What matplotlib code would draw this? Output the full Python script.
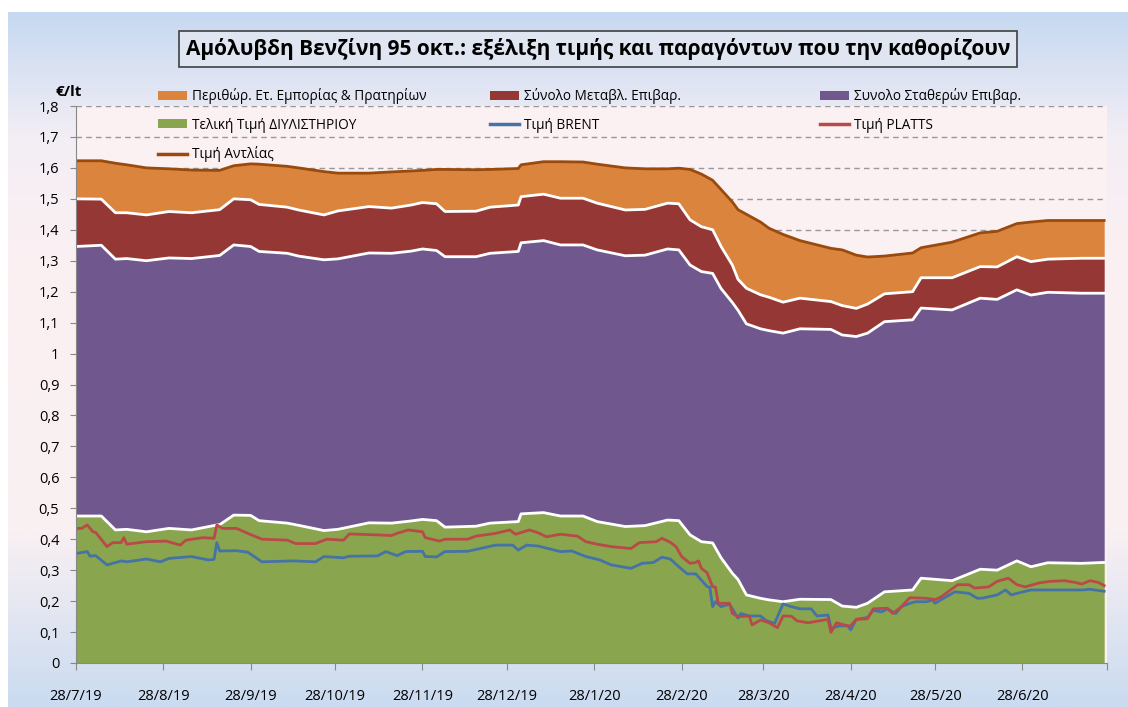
import numpy as np
import pandas as pd
import matplotlib
matplotlib.use('Agg')
import matplotlib.pyplot as plt
from matplotlib.patches import Patch
from matplotlib.lines import Line2D
from matplotlib.colors import LinearSegmentedColormap

plt.rcParams['font.family'] = ['Open Sans', 'DejaVu Sans']

START = pd.Timestamp('2019-07-28')

# days since 28/7/19 for the stacked areas
area_days = [0, 9, 14, 18, 25, 33, 41, 50, 51, 56,
             62, 65, 75, 79, 88, 93, 104, 112, 119, 123,
             128, 131, 142, 147, 157, 158, 166, 172, 180, 185,
             195, 202, 210, 214, 218, 222, 226, 229, 233, 235,
             238, 243, 246, 251, 257, 268, 272, 277, 281, 287,
             297, 300, 311, 321, 327, 334, 339, 345, 357, 365]
# Τελική Τιμή ΔΙΥΛΙΣΤΗΡΙΟΥ (top of green)
refinery = [0.475, 0.475, 0.43, 0.432, 0.424, 0.435, 0.43, 0.446, 0.447, 0.478,
            0.477, 0.46, 0.452, 0.445, 0.428, 0.432, 0.453, 0.452, 0.459, 0.464,
            0.46, 0.439, 0.442, 0.452, 0.457, 0.482, 0.486, 0.475, 0.475, 0.457,
            0.441, 0.444, 0.462, 0.46, 0.414, 0.392, 0.388, 0.34, 0.29, 0.27,
            0.22, 0.209, 0.204, 0.198, 0.206, 0.205, 0.184, 0.18, 0.193, 0.23,
            0.236, 0.274, 0.266, 0.303, 0.30, 0.33, 0.311, 0.324, 0.322, 0.325]
# top of fixed taxes (purple)
fixed_top = [1.346, 1.35, 1.305, 1.307, 1.30, 1.309, 1.307, 1.316, 1.317, 1.351,
             1.346, 1.33, 1.324, 1.315, 1.303, 1.306, 1.325, 1.324, 1.331, 1.338,
             1.333, 1.313, 1.313, 1.324, 1.33, 1.358, 1.365, 1.351, 1.351, 1.335,
             1.316, 1.318, 1.338, 1.335, 1.286, 1.265, 1.259, 1.21, 1.165, 1.14,
             1.096, 1.08, 1.074, 1.066, 1.08, 1.078, 1.06, 1.055, 1.066, 1.103,
             1.109, 1.147, 1.141, 1.179, 1.175, 1.206, 1.189, 1.198, 1.195, 1.195]
# top of variable taxes (dark red)
variable_top = [1.50, 1.499, 1.455, 1.455, 1.448, 1.459, 1.455, 1.464, 1.465, 1.50,
                1.497, 1.482, 1.473, 1.464, 1.448, 1.461, 1.475, 1.47, 1.48, 1.488,
                1.484, 1.459, 1.46, 1.473, 1.48, 1.507, 1.515, 1.502, 1.502, 1.486,
                1.464, 1.466, 1.486, 1.484, 1.432, 1.41, 1.40, 1.346, 1.286, 1.24,
                1.211, 1.19, 1.182, 1.166, 1.179, 1.168, 1.155, 1.146, 1.16, 1.193,
                1.20, 1.245, 1.245, 1.281, 1.28, 1.313, 1.297, 1.305, 1.308, 1.308]
# Τιμή Αντλίας (pump price)
pump = [1.623, 1.623, 1.615, 1.61, 1.60, 1.597, 1.593, 1.592, 1.592, 1.607,
        1.613, 1.612, 1.605, 1.60, 1.588, 1.583, 1.583, 1.587, 1.59, 1.592,
        1.595, 1.595, 1.594, 1.595, 1.598, 1.61, 1.62, 1.62, 1.619, 1.612,
        1.60, 1.597, 1.597, 1.599, 1.595, 1.58, 1.56, 1.53, 1.49, 1.465,
        1.45, 1.425, 1.405, 1.385, 1.365, 1.34, 1.335, 1.318, 1.312, 1.315,
        1.325, 1.342, 1.36, 1.39, 1.395, 1.42, 1.425, 1.43, 1.43, 1.43]

brent_days = [0, 4, 5, 7, 11, 15, 16, 18, 25, 30, 33, 41, 47, 49, 50, 51, 57, 61, 66, 77,
              85, 88, 95, 97, 107, 110, 114, 117, 123, 124, 128, 131, 139, 144, 149, 155,
              157, 160, 164, 172, 176, 181, 186, 190, 197, 201, 205, 208, 211, 214, 217,
              220, 222, 224, 225, 226, 227, 229, 232, 234, 235, 236, 239, 243, 245, 248,
              251, 254, 257, 261, 263, 267, 268, 271, 274, 275, 277, 281, 283, 286, 288,
              291, 293, 296, 298, 302, 304, 305, 307, 312, 317, 320, 322, 327, 330, 332,
              334, 339, 345, 357, 360, 365]
brent = [0.354, 0.36, 0.345, 0.347, 0.317, 0.327, 0.33, 0.327, 0.336, 0.327, 0.338, 0.344,
         0.333, 0.335, 0.389, 0.362, 0.363, 0.358, 0.327, 0.33, 0.327, 0.344, 0.34, 0.345,
         0.346, 0.36, 0.347, 0.36, 0.361, 0.344, 0.343, 0.36, 0.361, 0.371, 0.381, 0.381,
         0.365, 0.381, 0.378, 0.36, 0.362, 0.344, 0.333, 0.317, 0.306, 0.322, 0.325, 0.342,
         0.336, 0.311, 0.288, 0.288, 0.268, 0.247, 0.245, 0.182, 0.198, 0.182, 0.19, 0.16,
         0.145, 0.16, 0.152, 0.152, 0.137, 0.128, 0.191, 0.182, 0.175, 0.175, 0.152, 0.155,
         0.112, 0.12, 0.12, 0.107, 0.141, 0.147, 0.17, 0.165, 0.175, 0.16, 0.182, 0.193,
         0.198, 0.198, 0.204, 0.193, 0.204, 0.23, 0.225, 0.209, 0.21, 0.22, 0.236, 0.22,
         0.225, 0.236, 0.236, 0.236, 0.238, 0.232]

platts_days = [0, 2, 4, 6, 7, 11, 13, 16, 17, 18, 25, 32, 37, 39, 45, 49, 50, 52, 57, 61,
               66, 75, 78, 85, 89, 95, 97, 107, 112, 114, 118, 123, 124, 129, 131, 139, 142,
               149, 154, 156, 161, 164, 167, 172, 178, 181, 185, 190, 197, 200, 206, 208,
               211, 213, 215, 218, 220, 221, 222, 224, 226, 227, 228, 232, 233, 235, 239,
               240, 243, 246, 249, 251, 254, 256, 260, 263, 267, 268, 270, 274, 275, 277,
               281, 283, 288, 290, 293, 296, 302, 305, 307, 313, 317, 319, 324, 327, 331,
               334, 337, 342, 346, 351, 355, 357, 360, 363, 365]
platts = [0.435, 0.435, 0.446, 0.424, 0.422, 0.376, 0.389, 0.389, 0.405, 0.384, 0.392,
          0.394, 0.381, 0.397, 0.405, 0.403, 0.446, 0.435, 0.435, 0.419, 0.40, 0.397, 0.386,
          0.386, 0.40, 0.397, 0.417, 0.414, 0.412, 0.419, 0.43, 0.424, 0.405, 0.394, 0.40,
          0.40, 0.41, 0.419, 0.43, 0.416, 0.43, 0.421, 0.408, 0.416, 0.41, 0.392, 0.384,
          0.376, 0.37, 0.389, 0.392, 0.403, 0.39, 0.376, 0.344, 0.322, 0.325, 0.33, 0.306,
          0.292, 0.247, 0.245, 0.193, 0.193, 0.16, 0.15, 0.152, 0.123, 0.139, 0.13, 0.114,
          0.152, 0.151, 0.136, 0.13, 0.135, 0.141, 0.099, 0.13, 0.12, 0.12, 0.141, 0.143,
          0.175, 0.177, 0.16, 0.182, 0.211, 0.209, 0.205, 0.213, 0.253, 0.253, 0.242, 0.246,
          0.264, 0.274, 0.253, 0.246, 0.259, 0.264, 0.266, 0.26, 0.255, 0.266, 0.26, 0.25]

labels = ['Περιθώρ. Ετ. Εμπορίας & Πρατηρίων', 'Σύνολο Μεταβλ. Επιβαρ.',
          'Συνολο Σταθερών Επιβαρ.', 'Τελική Τιμή ΔΙΥΛΙΣΤΗΡΙΟΥ', 'Τιμή BRENT',
          'Τιμή PLATTS', 'Τιμή Αντλίας']
title = 'Αμόλυβδη Βενζίνη 95 οκτ.: εξέλιξη τιμής και παραγόντων που την καθορίζουν'

c_orange = '#db843d'
c_red = '#953735'
c_purple = '#70588f'
c_green = '#89a54e'
c_blue = '#4572a7'
c_platts = '#b94a48'
c_pump = '#9a4a0c'


def _dates(days):
    return START + pd.to_timedelta(days, unit='D')


fig = plt.figure(figsize=(11.28, 7.07), dpi=100)

# gradient background frame
bg = fig.add_axes([8 / 1128, 0, 1 - 8 / 1128, 1 - 12 / 707], zorder=-10)
cmap = LinearSegmentedColormap.from_list(
    'bg', [(0, '#c6d9f1'), (0.18, '#f3eef5'), (0.35, '#fbf0f2'),
           (0.75, '#f9f0f3'), (1, '#cadbf0')])
bg.imshow(np.linspace(0, 1, 256).reshape(-1, 1), aspect='auto', cmap=cmap,
          extent=[0, 1, 1, 0])
bg.set_axis_off()

ax = fig.add_axes([76 / 1128, 1 - 663 / 707, 1031 / 1128, 557 / 707])
ax.set_facecolor('#fbf0f2')

ad = _dates(area_days)
ax.fill_between(ad, 0, refinery, color=c_green, lw=0, zorder=2)
ax.fill_between(ad, refinery, fixed_top, color=c_purple, lw=0, zorder=2)
ax.fill_between(ad, fixed_top, variable_top, color=c_red, lw=0, zorder=2)
ax.fill_between(ad, variable_top, pump, color=c_orange, lw=0, zorder=2)
for top in (refinery, fixed_top, variable_top):
    ax.plot(ad, top, color='white', lw=2, zorder=3)
ax.plot(ad, pump, color=c_pump, lw=2, zorder=4)
ax.plot(_dates(brent_days), brent, color=c_blue, lw=2, zorder=4)
ax.plot(_dates(platts_days), platts, color=c_platts, lw=2, zorder=4)

ax.set_ylim(0, 1.8)
ax.set_xlim(_dates([0])[0], _dates([366])[0])
yt = np.round(np.arange(0, 1.81, 0.1), 1)
ax.set_yticks(yt)
ax.set_yticklabels([('%g' % v).replace('.', ',') for v in yt], fontsize=10.5)
xt = pd.date_range('2019-07-28', '2020-07-28', freq=pd.DateOffset(months=1))
ax.set_xticks(xt)
xl = [f'{d.day}/{d.month}/{d.year % 100}' for d in xt]
xl[-1] = ''
ax.set_xticklabels(xl, fontsize=10.5)
ax.tick_params(axis='x', length=5, pad=14, color='#888888')
ax.tick_params(axis='y', length=4, pad=8, color='#888888')
ax.yaxis.grid(True, linestyle=(0, (4, 3)), color='#999999', lw=1)
ax.set_axisbelow(True)
for s in ('top', 'right'):
    ax.spines[s].set_visible(False)
for s in ('left', 'bottom'):
    ax.spines[s].set_color('#888888')
    ax.spines[s].set_zorder(5)

fig.text(55 / 1128, 1 - 92 / 707, '€/lt', fontsize=11, weight='bold', va='center')

fig.text(598 / 1128, 1 - 49 / 707, title, fontsize=15, weight='bold',
         ha='center', va='center',
         bbox=dict(boxstyle='square,pad=0.33', facecolor='#dfe5f1',
                   edgecolor='#404040', lw=1.2))

# legend in three fixed columns
h_orange = Patch(facecolor=c_orange)
h_red = Patch(facecolor=c_red)
h_purple = Patch(facecolor=c_purple)
h_green = Patch(facecolor=c_green)
h_blue = Line2D([], [], color=c_blue, lw=2.5)
h_platts = Line2D([], [], color=c_platts, lw=2.5)
h_pump = Line2D([], [], color=c_pump, lw=2.5)
cols = [([h_orange, h_green, h_pump], [labels[0], labels[3], labels[6]], 158),
        ([h_red, h_blue], [labels[1], labels[4]], 490),
        ([h_purple, h_platts], [labels[2], labels[5]], 820)]
for hs, ls, xpx in cols:
    fig.legend(hs, ls, loc='upper left', bbox_to_anchor=(xpx / 1128, 1 - 88 / 707),
               frameon=False, fontsize=9.8, borderpad=0, borderaxespad=0,
               handlelength=2.1, handleheight=0.6, handletextpad=0.4,
               labelspacing=1.0)

fig.savefig('out.png', dpi=100)
